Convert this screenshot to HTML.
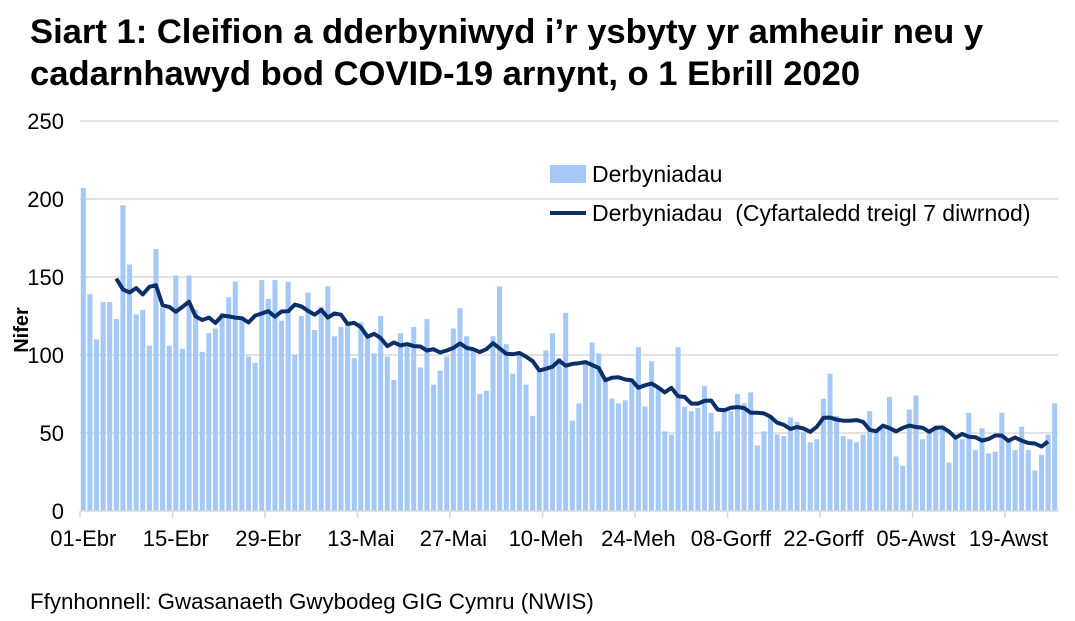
<!DOCTYPE html>
<html><head><meta charset="utf-8"><style>
body{margin:0;background:#fff;width:1075px;height:621px;overflow:hidden;font-family:"Liberation Sans",Arial,sans-serif}
svg{display:block}
</style></head><body>
<svg id="chart" width="1075" height="621" xmlns="http://www.w3.org/2000/svg" font-family="Liberation Sans, Arial, sans-serif">
<text x="30" y="43" font-size="34.6" font-weight="bold" fill="#000">Siart 1: Cleifion a dderbyniwyd i’r ysbyty yr amheuir neu y</text>
<text x="30" y="85" font-size="34.6" font-weight="bold" fill="#000">cadarnhawyd bod COVID-19 arnynt, o 1 Ebrill 2020</text>
<g id="grid"></g><g id="bars"></g><g id="line"></g><g id="axes"></g>
<text transform="translate(28,330) rotate(-90)" text-anchor="middle" font-size="20" font-weight="bold">Nifer</text>
<g>
<rect x="550" y="165" width="36" height="18" fill="#a4c8f7"/>
<text x="592" y="182" font-size="23">Derbyniadau</text>
<line x1="550" y1="213" x2="586" y2="213" stroke="#0b2f66" stroke-width="4"/>
<text x="592" y="221" font-size="23" xml:space="preserve">Derbyniadau  (Cyfartaledd treigl 7 diwrnod)</text>
</g>
<text x="30" y="609" font-size="22.3">Ffynhonnell: Gwasanaeth Gwybodeg GIG Cymru (NWIS)</text>
</svg>
<script>
const admissions=[207,139,110,134,134,123,196,158,126,129,106,168,130,106,151,104,151,129,102,114,117,127,137,147,124,99,95,148,136,148,122,147,100,125,140,116,131,144,112,118,120,98,121,112,101,125,99,84,114,108,118,92,123,81,90,99,117,130,112,103,75,77,112,144,107,88,100,81,61,91,103,114,98,127,58,69,94,108,101,85,72,69,71,84,105,67,96,80,51,49,105,67,64,66,80,63,51,64,64,75,69,76,42,51,61,49,48,60,57,51,44,46,72,88,61,48,46,44,49,64,52,55,73,35,29,65,74,46,52,55,52,31,47,46,63,39,53,37,38,63,46,39,54,39,26,36,49,69];
const yTicks=[0,50,100,150,200,250];
const xLabels=["01-Ebr","15-Ebr","29-Ebr","13-Mai","27-Mai","10-Meh","24-Meh","08-Gorff","22-Gorff","05-Awst","19-Awst"];
const labelEvery=14;

const NS="http://www.w3.org/2000/svg";
const X0=80,X1=1058,Y0=511,Y1=121;
const n=admissions.length, bw=(X1-X0)/n;
const x=i=>X0+(i+0.5)*bw;
const y=v=>Y0-(v/250)*(Y0-Y1);
function mk(tag,attrs,parent){const e=document.createElementNS(NS,tag);for(const k in attrs)e.setAttribute(k,attrs[k]);parent.appendChild(e);return e;}
const grid=document.getElementById('grid'),bars=document.getElementById('bars'),line=document.getElementById('line'),axes=document.getElementById('axes');
yTicks.forEach(t=>{
  if(t>0){const g=mk('line',{x1:X0,x2:X1,y1:y(t),y2:y(t),stroke:'#d9d9d9','stroke-width':1.5},grid);
  
  }
  const tx=mk('text',{x:64,y:y(t)+8,'text-anchor':'end','font-size':22},axes);tx.textContent=t;
  
  
});
admissions.forEach((v,i)=>{
  const r=mk('rect',{x:x(i)-bw*0.38,y:y(v),width:bw*0.76,height:Y0-y(v),fill:'#a4c8f7'},bars);
  
  
});
let pts=[];
for(let i=6;i<n;i++){let s=0;for(let k=i-6;k<=i;k++)s+=admissions[k];pts.push(x(i-1).toFixed(1)+','+y(s/7).toFixed(1));}
const pl=mk('polyline',{points:pts.join(' '),fill:'none',stroke:'#0b2f66','stroke-width':4,'stroke-linejoin':'round'},line);


const ax=mk('line',{x1:X0,x2:X1,y1:Y0,y2:Y0,stroke:'#d9d9d9','stroke-width':1.5},axes);


xLabels.forEach((l,j)=>{
  const i=j*labelEvery,tx0=X0+i*bw;
  const tk=mk('line',{x1:tx0,x2:tx0,y1:Y0,y2:Y0+7,stroke:'#d9d9d9','stroke-width':1.5},axes);
  
  
  const t=mk('text',{x:x(i),y:546,'text-anchor':'middle','font-size':22},axes);t.textContent=l;
  
  
});
</script>
</body></html>
